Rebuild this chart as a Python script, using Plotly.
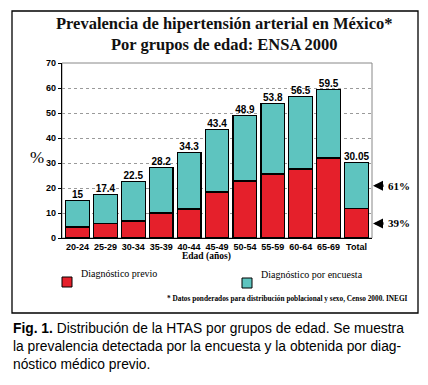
import plotly.graph_objects as go

categories = ["20-24", "25-29", "30-34", "35-39", "40-44", "45-49",
              "50-54", "55-59", "60-64", "65-69", "Total"]
totals = [15, 17.4, 22.5, 28.2, 34.3, 43.4, 48.9, 53.8, 56.5, 59.5, 30.05]
total_labels = ["15", "17.4", "22.5", "28.2", "34.3", "43.4", "48.9",
                "53.8", "56.5", "59.5", "30.05"]
diag_previo = [4.4, 5.7, 6.8, 10.0, 11.6, 18.4, 22.8, 25.6, 27.6, 32.0, 11.7]
diag_encuesta = [round(t - p, 2) for t, p in zip(totals, diag_previo)]
y_ticks = [0, 10, 20, 30, 40, 50, 60, 70]
share_labels = ["61%", "39%"]
series_names = ["Diagnóstico previo", "Diagnóstico por encuesta"]

W, H = 428, 385
L, R, T, B = 62, 372, 63, 238


def px(x):
    return (x - L) / (R - L)


def py(y):
    return (B - y) / (B - T)


RED = "#E5202B"
TEAL = "#5EC4BF"
COLORS = [RED, TEAL]
SERIF = "Liberation Serif, Times New Roman, serif"
SANS = "Liberation Sans, Arial, sans-serif"

fig = go.Figure()
for name, vals, col in zip(series_names, [diag_previo, diag_encuesta], COLORS):
    fig.add_trace(go.Bar(x=categories, y=vals, name=name, showlegend=False,
                         marker=dict(color=col, line=dict(color="black", width=1.2))))
fig.add_trace(go.Scatter(x=categories, y=totals, mode="text", text=total_labels,
                         textposition="top center", showlegend=False,
                         textfont=dict(family=SANS, size=10, color="black", weight="bold"),
                         cliponaxis=False, hoverinfo="skip"))

shapes = [
    dict(type="rect", xref="paper", yref="paper", x0=px(12), x1=px(418),
         y0=py(313), y1=py(11), line=dict(color="black", width=1.3), layer="below"),
    dict(type="rect", xref="paper", yref="paper", x0=0, x1=1, y0=0, y1=1,
         line=dict(color="#888888", width=1), layer="below"),
]

annotations = [
    dict(text="<b>Prevalencia de hipertensión arterial en México*</b><br><b>Por grupos de edad: ENSA 2000</b>",
         xref="paper", yref="paper", x=px(224), y=py(34), xanchor="center", yanchor="middle",
         showarrow=False, font=dict(family=SERIF, size=16.5, color="#111")),
    dict(text="%", xref="paper", yref="paper", x=px(28), y=py(157), showarrow=False,
         font=dict(family=SERIF, size=17, color="black")),
    dict(text="<b>Edad (años)</b>", xref="paper", yref="paper", x=px(206), y=py(264),
         showarrow=False, font=dict(family=SERIF, size=9.5, color="black")),
    dict(text="<b>* Datos ponderados para distribución poblacional y sexo, Censo 2000. INEGI</b>",
         xref="paper", yref="paper", x=px(410), y=py(305), xanchor="right",
         showarrow=False, font=dict(family=SERIF, size=7.3, color="black")),
    dict(text="<b>Fig. 1.</b> Distribución de la HTAS por grupos de edad. Se muestra<br>"
              "la prevalencia detectada por la encuesta y la obtenida por diag-<br>"
              "nóstico médico previo.",
         xref="paper", yref="paper", x=px(11), y=py(319), xanchor="left", yanchor="top",
         align="left", showarrow=False, font=dict(family=SANS, size=13.8, color="black")),
]

# manual legend
leg_x = [62, 242]
leg_y = [282, 283]
for name, col, lx, ly in zip(series_names, COLORS, leg_x, leg_y):
    shapes.append(dict(type="rect", xref="paper", yref="paper",
                       x0=px(lx), x1=px(lx + 10), y0=py(ly + 5), y1=py(ly - 5),
                       fillcolor=col, line=dict(color="black", width=1)))
    annotations.append(dict(text=name, xref="paper", yref="paper", x=px(lx + 17), y=py(ly - 1),
                            xanchor="left", showarrow=False,
                            font=dict(family=SERIF, size=10, color="black")))

# share arrows for the Total bar, positioned at segment midpoints
mids = [diag_previo[-1] + diag_encuesta[-1] / 2, diag_previo[-1] / 2]
for lab, m in zip(share_labels, mids):
    annotations.append(dict(x=px(373), y=m, xref="paper", yref="y", ax=12, ay=0,
                            text="", showarrow=True, arrowhead=2, arrowsize=0.8,
                            arrowwidth=2.5, arrowcolor="black"))
    annotations.append(dict(x=px(386), y=m, xref="paper", yref="y", xanchor="left",
                            text="<b>" + lab + "</b>", showarrow=False,
                            font=dict(family=SERIF, size=11, color="black")))

fig.update_layout(
    width=W, height=H,
    margin=dict(l=L, r=W - R, t=T, b=H - B, pad=0, autoexpand=False),
    paper_bgcolor="white", plot_bgcolor="white",
    barmode="stack", bargap=0.15, showlegend=False,
    shapes=shapes, annotations=annotations,
    xaxis=dict(showline=True, linecolor="black", linewidth=1.2,
               tickfont=dict(family=SANS, size=9, color="black", weight="bold"),
               ticks="", showgrid=False),
    yaxis=dict(range=[0, 70], tickvals=y_ticks, showline=True, linecolor="black",
               linewidth=1.2, ticks="outside", ticklen=3, tickcolor="black",
               tickfont=dict(family=SANS, size=9, color="black", weight="bold"),
               showgrid=True, gridcolor="#9a9a9a", griddash="dot", gridwidth=1,
               zeroline=False),
)

fig.write_html("out.html", config={"displayModeBar": False},
               post_script="document.body.style.margin='0';")
